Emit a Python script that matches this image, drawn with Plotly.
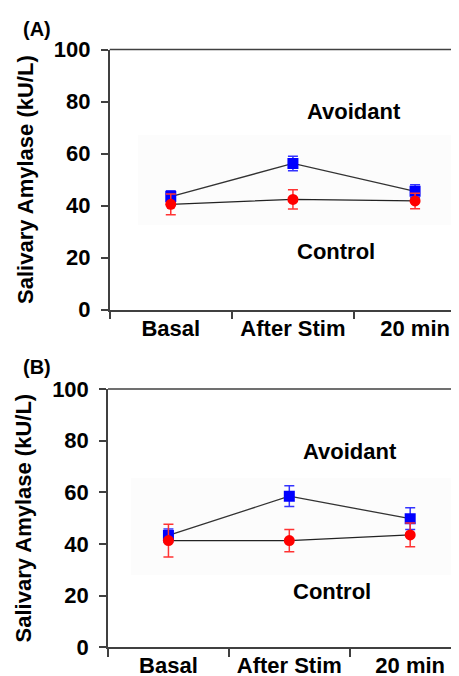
import plotly.graph_objects as go

# ---- data ----
categories = ["Basal", "After Stim", "20 min"]
y_ticks = [0, 20, 40, 60, 80, 100]

a_avoidant = [43.5, 56.2, 45.5]
a_avoidant_err = [2.2, 2.8, 2.5]
a_control = [40.5, 42.4, 41.8]
a_control_err = [4.0, 3.7, 3.0]

b_avoidant = [43.3, 58.5, 49.8]
b_avoidant_err = [2.5, 4.0, 4.2]
b_control = [41.3, 41.3, 43.5]
b_control_err = [6.3, 4.3, 4.6]

W, H = 459, 676
FONT = "Liberation Sans"
AXC = "#404040"


def px(x):
    return x / W


def py(y):
    return 1 - y / H


fig = go.Figure()


def add_panel(xa, ya, av, av_err, co, co_err):
    fig.add_trace(go.Scatter(
        x=categories, y=av, mode="lines+markers", name="Avoidant",
        xaxis=xa, yaxis=ya,
        line=dict(color="#333333", width=1.3),
        marker=dict(symbol="square", size=11, color="#0000FF"),
        error_y=dict(type="data", array=av_err, visible=True,
                     color="#3333FF", thickness=1.5, width=5),
        showlegend=False))
    fig.add_trace(go.Scatter(
        x=categories, y=co, mode="lines+markers", name="Control",
        xaxis=xa, yaxis=ya,
        line=dict(color="#222222", width=1.3),
        marker=dict(symbol="circle", size=11, color="#FF0000"),
        error_y=dict(type="data", array=co_err, visible=True,
                     color="#FF3333", thickness=1.5, width=5),
        showlegend=False))


add_panel("x", "y", a_avoidant, a_avoidant_err, a_control, a_control_err)
add_panel("x2", "y2", b_avoidant, b_avoidant_err, b_control, b_control_err)

tickfont = dict(family=FONT, size=22, color="black", weight="bold")


def xaxis_def(left, rng, anchor):
    return dict(type="category", categoryorder="array", categoryarray=categories,
                range=rng, domain=[left, 1], anchor=anchor,
                showline=True, linecolor=AXC, linewidth=1.5,
                ticks="outside", tickson="boundaries", ticklen=8,
                tickcolor=AXC, tickwidth=1.5, showgrid=False, zeroline=False,
                tickfont=tickfont, ticklabelstandoff=-2, automargin=False)


def yaxis_def(dom, anchor):
    return dict(range=[0, 100], domain=dom, anchor=anchor,
                tickvals=y_ticks, showline=True, linecolor=AXC, linewidth=1.5,
                ticks="outside", ticklen=7, tickcolor=AXC, tickwidth=1.5,
                showgrid=False, zeroline=False, tickfont=tickfont,
                ticklabelstandoff=6,
                title=dict(text="Salivary Amylase (kU/L)",
                           font=dict(family=FONT, size=22, color="black", weight="bold"),
                           standoff=14),
                automargin=False)


fig.update_layout(
    width=W, height=H,
    margin=dict(l=0, r=0, t=0, b=0),
    template="none",
    paper_bgcolor="white", plot_bgcolor="white",
    xaxis=xaxis_def(px(101.7), [-0.5, 2.425], "y"),
    yaxis=yaxis_def([py(301.7), py(41.5)], "x"),
    xaxis2=xaxis_def(px(100), [-0.5, 2.47], "y2"),
    yaxis2=yaxis_def([py(639.3), py(381)], "x2"),
)

shapes = []
for xr, yr in (("x domain", "y domain"), ("x2 domain", "y2 domain")):
    shapes.append(dict(type="line", xref=xr, yref=yr, x0=0, x1=1, y0=1, y1=1,
                       line=dict(color=AXC, width=1.5)))
shapes.append(dict(type="rect", xref="paper", yref="paper", layer="below",
                   x0=px(130), x1=px(445), y0=py(217), y1=py(127),
                   fillcolor="#fcfcfc", line=dict(width=0)))
shapes.append(dict(type="rect", xref="paper", yref="paper", layer="below",
                   x0=px(123), x1=px(443), y0=py(567), y1=py(470),
                   fillcolor="#fcfcfc", line=dict(width=0)))
fig.update_layout(shapes=shapes)

ann_font = dict(family=FONT, size=22, color="black", weight="bold")
annotations = [
    dict(text="(A)", x=px(29), y=py(21), font=dict(family=FONT, size=20, color="black", weight="bold")),
    dict(text="(B)", x=px(29), y=py(359), font=dict(family=FONT, size=20, color="black", weight="bold")),
    dict(text="Avoidant", x=px(346), y=py(103), font=ann_font),
    dict(text="Control", x=px(328), y=py(243), font=ann_font),
    dict(text="Avoidant", x=px(342), y=py(443), font=ann_font),
    dict(text="Control", x=px(324), y=py(583), font=ann_font),
]
for a in annotations:
    a.update(xref="paper", yref="paper", showarrow=False, xanchor="center", yanchor="middle")
fig.update_layout(annotations=annotations)

fig.write_html("out.html")
